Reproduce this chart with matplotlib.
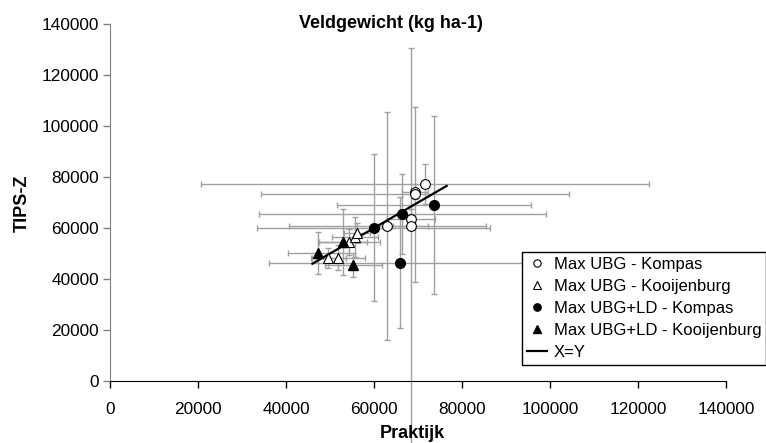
import matplotlib
matplotlib.use("Agg")
import matplotlib.pyplot as plt
import numpy as np

plt.rcParams['font.family'] = ['Liberation Sans', 'DejaVu Sans']

# Max UBG - Kompas (open circles)
a_x = [71600, 69330, 69330, 63030, 68350, 68350]
a_y = [77150, 74250, 73220, 60790, 63540, 60790]
a_xerr = [51000, 3000, 35000, 22350, 5500, 4000]
a_yerr_lo = [7840, 3000, 34400, 44700, 4000, 85800]
a_yerr_hi = [7840, 3000, 34400, 44700, 4000, 69700]

# Max UBG - Kooijenburg (open triangles)
b_x = [49610, 51930, 54320, 55680, 56140]
b_y = [48240, 48430, 54510, 56470, 58040]
b_xerr = [4000, 6100, 7000, 5300, 3000]
b_yerr = [4000, 5000, 5000, 8000, 4000]

# Max UBG+LD - Kompas (filled circles)
c_x = [59940, 66440, 73580, 65920]
c_y = [60130, 65500, 69030, 46400]
c_xerr = [26530, 32570, 22060, 29850]
c_yerr = [28700, 15570, 34770, 25800]

# Max UBG+LD - Kooijenburg (filled triangles)
d_x = [47340, 53020, 55300]
d_y = [50080, 54390, 45490]
d_xerr = [6950, 5440, 6450]
d_yerr = [8300, 12900, 4700]

# X=Y line
xy_line = [46000, 76500]

labels = ["Max UBG - Kompas", "Max UBG - Kooijenburg",
          "Max UBG+LD - Kompas", "Max UBG+LD - Kooijenburg", "X=Y"]

W, H = 766, 443
fig = plt.figure(figsize=(W / 100, H / 100), dpi=100)
ax = fig.add_axes([110 / W, (H - 381) / H, 616 / W, 357 / H])

ecol = '#A0A0A0'
ekw = dict(fmt='none', ecolor=ecol, elinewidth=1.0, capsize=2.3, capthick=1.0, zorder=2)

# error bars
ax.errorbar(a_x[:5], a_y[:5], xerr=a_xerr[:5],
            yerr=[a_yerr_lo[:5], a_yerr_hi[:5]], **ekw)
eb = ax.errorbar(a_x[5:], a_y[5:], xerr=a_xerr[5:],
                 yerr=[a_yerr_lo[5:], a_yerr_hi[5:]], **ekw)
for art in eb.lines[1] + eb.lines[2]:
    art.set_clip_on(False)
ax.errorbar(b_x, b_y, xerr=b_xerr, yerr=b_yerr, **ekw)
ax.errorbar(c_x, c_y, xerr=c_xerr, yerr=c_yerr, **ekw)
ax.errorbar(d_x, d_y, xerr=d_xerr, yerr=d_yerr, **ekw)

# X=Y line
ln, = ax.plot(xy_line, xy_line, color='black', lw=1.6, zorder=3, label=labels[4])

ms = 7
h1, = ax.plot(a_x, a_y, 'o', ms=ms, mfc='white', mec='black', mew=0.8, ls='none', zorder=4, label=labels[0])
h2, = ax.plot(b_x, b_y, '^', ms=ms + 0.5, mfc='white', mec='black', mew=0.8, ls='none', zorder=4, label=labels[1])
h3, = ax.plot(c_x, c_y, 'o', ms=ms, mfc='black', mec='black', ls='none', zorder=4, label=labels[2])
h4, = ax.plot(d_x, d_y, '^', ms=ms + 0.5, mfc='black', mec='black', ls='none', zorder=4, label=labels[3])

ax.set_xlim(0, 140000)
ax.set_ylim(0, 140000)
ax.set_xticks(np.arange(0, 140001, 20000))
ax.set_yticks(np.arange(0, 140001, 20000))
ax.tick_params(axis='both', direction='out', length=5, width=1, labelsize=12.4, colors='black')
ax.tick_params(axis='x', pad=10)
ax.tick_params(axis='y', pad=3)
ax.spines['top'].set_visible(False)
ax.spines['right'].set_visible(False)
ax.spines['left'].set_color('#808080')
ax.spines['bottom'].set_color('black')
ax.tick_params(axis='y', color='#808080')

fig.text(391 / W, 1 - 23 / H, "Veldgewicht (kg ha-1)", ha='center', va='center',
         fontsize=13, fontweight='bold')
fig.text(412 / W, 1 - 434 / H, "Praktijk", ha='center', va='center',
         fontsize=13, fontweight='bold')
fig.text(22 / W, 1 - 203 / H, "TIPS-Z", ha='center', va='center', rotation=90,
         fontsize=13, fontweight='bold')

leg = fig.legend([h1, h2, h3, h4, ln], labels,
                 loc='upper left', bbox_to_anchor=(522 / W, 1 - 252 / H),
                 fontsize=12, frameon=True, fancybox=False, framealpha=1,
                 edgecolor='black', markerscale=0.75, handlelength=1.2,
                 handletextpad=0.4, labelspacing=0.42, borderpad=0.3,
                 borderaxespad=0)
leg.get_frame().set_linewidth(1.0)

fig.savefig("out.png", dpi=100)
